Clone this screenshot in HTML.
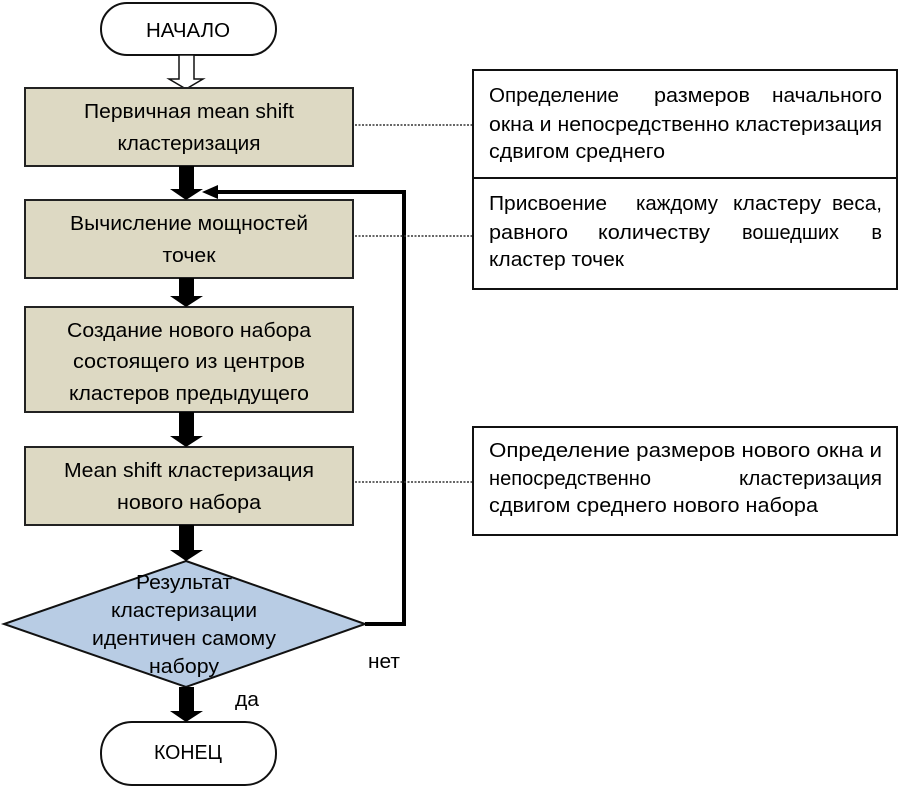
<!DOCTYPE html>
<html><head><meta charset="utf-8"><style>
html,body{margin:0;padding:0;background:#fff}
svg{display:block}
text{font-family:"Liberation Sans",sans-serif;font-size:20px;fill:#000}
</style></head><body>
<svg width="903" height="793" viewBox="0 0 903 793" xmlns="http://www.w3.org/2000/svg">
<rect x="101" y="3" width="175" height="52" rx="26" fill="#fff" stroke="#111" stroke-width="2"/>
<text x="188" y="37" text-anchor="middle" textLength="84" lengthAdjust="spacingAndGlyphs">НАЧАЛО</text>
<polygon points="179,55 194,55 194,79 203,79 186,89 169,79 179,79" fill="#fff" stroke="#111" stroke-width="1.5"/>
<rect x="25" y="88" width="328" height="78" fill="#ddd9c3" stroke="#222" stroke-width="2"/>
<text x="189" y="118" text-anchor="middle" textLength="210" lengthAdjust="spacingAndGlyphs">Первичная mean shift</text>
<text x="189" y="150" text-anchor="middle" textLength="143" lengthAdjust="spacingAndGlyphs">кластеризация</text>
<rect x="25" y="200" width="328" height="78" fill="#ddd9c3" stroke="#222" stroke-width="2"/>
<text x="189" y="230" text-anchor="middle" textLength="238" lengthAdjust="spacingAndGlyphs">Вычисление мощностей</text>
<text x="189" y="262" text-anchor="middle" textLength="53" lengthAdjust="spacingAndGlyphs">точек</text>
<rect x="25" y="307" width="328" height="105" fill="#ddd9c3" stroke="#222" stroke-width="2"/>
<text x="189" y="337" text-anchor="middle" textLength="244" lengthAdjust="spacingAndGlyphs">Создание нового набора</text>
<text x="189" y="368" text-anchor="middle" textLength="232" lengthAdjust="spacingAndGlyphs">состоящего из центров</text>
<text x="189" y="400" text-anchor="middle" textLength="240" lengthAdjust="spacingAndGlyphs">кластеров предыдущего</text>
<rect x="25" y="447" width="328" height="78" fill="#ddd9c3" stroke="#222" stroke-width="2"/>
<text x="189" y="477" text-anchor="middle" textLength="250" lengthAdjust="spacingAndGlyphs">Mean shift кластеризация</text>
<text x="189" y="509" text-anchor="middle" textLength="144" lengthAdjust="spacingAndGlyphs">нового набора</text>
<polygon points="186,561 365,624 186,687 4,624" fill="#b8cce4" stroke="#111" stroke-width="2"/>
<text x="184" y="589" text-anchor="middle" textLength="96" lengthAdjust="spacingAndGlyphs">Результат</text>
<text x="184" y="617" text-anchor="middle" textLength="146" lengthAdjust="spacingAndGlyphs">кластеризации</text>
<text x="184" y="645" text-anchor="middle" textLength="184" lengthAdjust="spacingAndGlyphs">идентичен самому</text>
<text x="184" y="673" text-anchor="middle" textLength="70" lengthAdjust="spacingAndGlyphs">набору</text>
<rect x="101" y="722" width="175" height="63" rx="31" fill="#fff" stroke="#111" stroke-width="2"/>
<text x="188" y="759" text-anchor="middle" textLength="68" lengthAdjust="spacingAndGlyphs">КОНЕЦ</text>
<g fill="#000">
<polygon points="179,166 194,166 194,189 203,189 186,200 170,189 179,189"/>
<polygon points="179,278 194,278 194,296 203,296 186,307 170,296 179,296"/>
<polygon points="179,412 194,412 194,436 203,436 186,447 170,436 179,436"/>
<polygon points="179,525 194,525 194,550 203,550 186,561 170,550 179,550"/>
<polygon points="179,687 194,687 194,711 203,711 186,722 170,711 179,711"/>
</g>
<polyline points="365,624 404,624 404,192 212,192" fill="none" stroke="#000" stroke-width="4"/>
<polygon points="202,192 218,185 218,199" fill="#000"/>
<text x="368" y="668" textLength="32" lengthAdjust="spacingAndGlyphs">нет</text>
<text x="235" y="706" textLength="24" lengthAdjust="spacingAndGlyphs">да</text>
<g stroke="#333" stroke-width="1.5" stroke-dasharray="2,1.5">
<line x1="355" y1="125" x2="473" y2="125"/>
<line x1="355" y1="236" x2="473" y2="236"/>
<line x1="355" y1="482" x2="473" y2="482"/>
</g>
<rect x="473" y="70" width="424" height="108" fill="#fff" stroke="#111" stroke-width="2"/>
<rect x="473" y="178" width="424" height="111" fill="#fff" stroke="#111" stroke-width="2"/>
<rect x="473" y="427" width="424" height="108" fill="#fff" stroke="#111" stroke-width="2"/>
<text x="489" y="102" textLength="130" lengthAdjust="spacingAndGlyphs">Определение</text>
<text x="654" y="102" textLength="96" lengthAdjust="spacingAndGlyphs">размеров</text>
<text x="882" y="102" text-anchor="end" textLength="110" lengthAdjust="spacingAndGlyphs">начального</text>
<text x="489" y="131" textLength="393" lengthAdjust="spacingAndGlyphs">окна и непосредственно кластеризация</text>
<text x="489" y="158" textLength="176" lengthAdjust="spacingAndGlyphs">сдвигом среднего</text>
<text x="489" y="210" textLength="118" lengthAdjust="spacingAndGlyphs">Присвоение</text>
<text x="636" y="210" textLength="82" lengthAdjust="spacingAndGlyphs">каждому</text>
<text x="733" y="210" textLength="88" lengthAdjust="spacingAndGlyphs">кластеру</text>
<text x="882" y="210" text-anchor="end" textLength="50" lengthAdjust="spacingAndGlyphs">веса,</text>
<text x="489" y="239" textLength="79" lengthAdjust="spacingAndGlyphs">равного</text>
<text x="598" y="239" textLength="112" lengthAdjust="spacingAndGlyphs">количеству</text>
<text x="742" y="239" textLength="97" lengthAdjust="spacingAndGlyphs">вошедших</text>
<text x="882" y="239" text-anchor="end">в</text>
<text x="489" y="266" textLength="135" lengthAdjust="spacingAndGlyphs">кластер точек</text>
<text x="489" y="457" textLength="393" lengthAdjust="spacingAndGlyphs">Определение размеров нового окна и</text>
<text x="489" y="485" textLength="162" lengthAdjust="spacingAndGlyphs">непосредственно</text>
<text x="882" y="485" text-anchor="end" textLength="143" lengthAdjust="spacingAndGlyphs">кластеризация</text>
<text x="489" y="512" textLength="329" lengthAdjust="spacingAndGlyphs">сдвигом среднего нового набора</text>
</svg>
</body></html>
